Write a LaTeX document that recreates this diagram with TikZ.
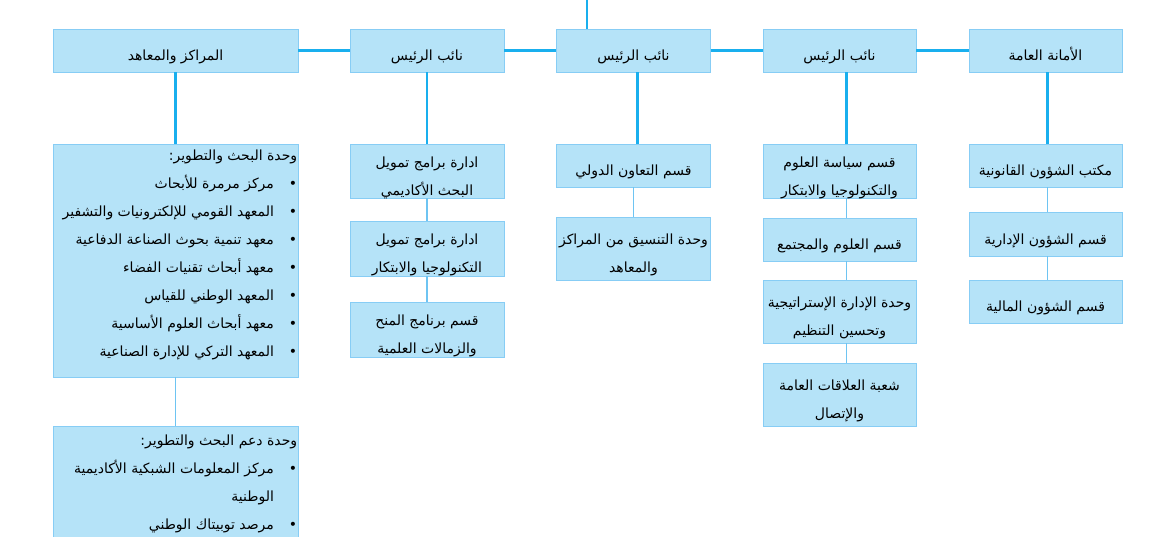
\documentclass[tikz,border=0pt]{standalone}
\usepackage{fontspec}
\newfontfamily\arabicfont[Script=Arabic]{DejaVu Sans}
\TeXXeTstate=1
\newcommand{\rtext}[1]{\rule[-4pt]{0pt}{24pt}\raisebox{-2pt}{\smash{\beginR#1\endR}}}
\newcommand{\ltext}[1]{\beginR\rule[-4pt]{0pt}{24pt}#1\endR}
\newcommand{\bitem}[1]{\beginR\rule[-4pt]{0pt}{24pt}\textbullet\hspace{15pt}#1\endR}
\definecolor{boxfill}{RGB}{181,227,248}
\definecolor{boxline}{RGB}{135,205,245}
\definecolor{mainline}{RGB}{25,175,238}
\definecolor{subline}{RGB}{110,196,242}
\begin{document}
\begin{tikzpicture}[x=1pt,y=-1pt,
	unitbox/.style={draw=boxline,fill=boxfill,line width=0.8pt,inner sep=1pt,
		font=\arabicfont\fontsize{14}{28}\selectfont,align=center},
	listtext/.style={inner sep=0pt,anchor=north east,align=right,
		font=\arabicfont\fontsize{14}{28}\selectfont},
	mainlink/.style={draw=mainline,line width=2.6pt},
	sublink/.style={draw=subline,line width=1.7pt}]
	\useasboundingbox (0,0) rectangle (1170,536);
		% top row
		\node[unitbox,minimum width=245,minimum height=43] (M) at (175.5,50.5) {\rtext{المراكز والمعاهد}};
		\node[unitbox,minimum width=154,minimum height=43] (V1) at (427,50.5) {\rtext{نائب الرئيس}};
		\node[unitbox,minimum width=154,minimum height=43] (V2) at (633.5,50.5) {\rtext{نائب الرئيس}};
		\node[unitbox,minimum width=153,minimum height=43] (V3) at (839.5,50.5) {\rtext{نائب الرئيس}};
		\node[unitbox,minimum width=153,minimum height=43] (G) at (1045.5,50.5) {\rtext{الأمانة العامة}};
		\coordinate (T) at (587,0);
		% first column
		\node[unitbox,minimum width=245,minimum height=233] (M1) at (175.5,260.5) {};
		\node[listtext] (M1t) at ([xshift=-1pt,yshift=3pt]M1.north east)
			{\ltext{وحدة البحث والتطوير:}\\
			\bitem{مركز مرمرة للأبحاث}\\
			\bitem{المعهد القومي للإلكترونيات والتشفير}\\
			\bitem{معهد تنمية بحوث الصناعة الدفاعية}\\
			\bitem{معهد أبحاث تقنيات الفضاء}\\
			\bitem{المعهد الوطني للقياس}\\
			\bitem{معهد أبحاث العلوم الأساسية}\\
			\bitem{المعهد التركي للإدارة الصناعية}};
		\node[unitbox,minimum width=245,minimum height=125] (M2) at (175.5,488.5) {};
		\node[listtext] (M2t) at ([xshift=-1pt]M2.north east)
			{\ltext{وحدة دعم البحث والتطوير:}\\
			\bitem{مركز المعلومات الشبكية الأكاديمية}\\
			\ltext{\phantom{\textbullet}\hspace{15pt}الوطنية}\\
			\bitem{مرصد توبيتاك الوطني}};
		% second column
		\node[unitbox,minimum width=154,minimum height=54] (A1) at (427,171) {\rtext{ادارة برامج تمويل}\\\rtext{البحث الأكاديمي}};
		\node[unitbox,minimum width=154,minimum height=55] (A2) at (427,248.5) {\rtext{ادارة برامج تمويل}\\\rtext{التكنولوجيا والابتكار}};
		\node[unitbox,minimum width=154,minimum height=55] (A3) at (427,329.5) {\rtext{قسم برنامج المنح}\\\rtext{والزمالات العلمية}};
		% third column
		\node[unitbox,minimum width=154,minimum height=43] (B1) at (633.5,165.5) {\rtext{قسم التعاون الدولي}};
		\node[unitbox,minimum width=154,minimum height=63] (B2) at (633.5,248.5) {\rtext{وحدة التنسيق من المراكز}\\\rtext{والمعاهد}};
		% fourth column
		\node[unitbox,minimum width=153,minimum height=54] (C1) at (839.5,171) {\rtext{قسم سياسة العلوم}\\\rtext{والتكنولوجيا والابتكار}};
		\node[unitbox,minimum width=153,minimum height=43] (C2) at (839.5,239.5) {\rtext{قسم العلوم والمجتمع}};
		\node[unitbox,minimum width=153,minimum height=63] (C3) at (839.5,311.5) {\rtext{وحدة الإدارة الإستراتيجية}\\\rtext{وتحسين التنظيم}};
		\node[unitbox,minimum width=153,minimum height=63] (C4) at (839.5,394.5) {\rtext{شعبة العلاقات العامة}\\\rtext{والإتصال}};
		% fifth column
		\node[unitbox,minimum width=153,minimum height=43] (D1) at (1045.5,165.5) {\rtext{مكتب الشؤون القانونية}};
		\node[unitbox,minimum width=153,minimum height=44] (D2) at (1045.5,234) {\rtext{قسم الشؤون الإدارية}};
		\node[unitbox,minimum width=153,minimum height=43] (D3) at (1045.5,301.5) {\rtext{قسم الشؤون المالية}};
		% connectors
		\path[mainlink] (T) edge (T |- V2.north);
		\path[mainlink] (M) edge (V1);
		\path[mainlink] (V1) edge (V2);
		\path[mainlink] (V2) edge (V3);
		\path[mainlink] (V3) edge (G);
		\path[mainlink] (M) edge (M1);
		\path[mainlink] (V1) edge (A1);
		\path[mainlink] ([xshift=4pt]V2.south) edge ([xshift=4pt]B1.north);
		\path[mainlink] ([xshift=7pt]V3.south) edge ([xshift=7pt]C1.north);
		\path[mainlink] ([xshift=2pt]G.south) edge ([xshift=2pt]D1.north);
		\path[sublink] (M1) edge (M2);
		\path[sublink] (A1) edge (A2);
		\path[sublink] (A2) edge (A3);
		\path[sublink] (B1) edge (B2);
		\path[sublink] ([xshift=7pt]C1.south) edge ([xshift=7pt]C2.north);
		\path[sublink] ([xshift=7pt]C2.south) edge ([xshift=7pt]C3.north);
		\path[sublink] ([xshift=7pt]C3.south) edge ([xshift=7pt]C4.north);
		\path[sublink] ([xshift=2pt]D1.south) edge ([xshift=2pt]D2.north);
		\path[sublink] ([xshift=2pt]D2.south) edge ([xshift=2pt]D3.north);
	\end{tikzpicture}
\end{document}
